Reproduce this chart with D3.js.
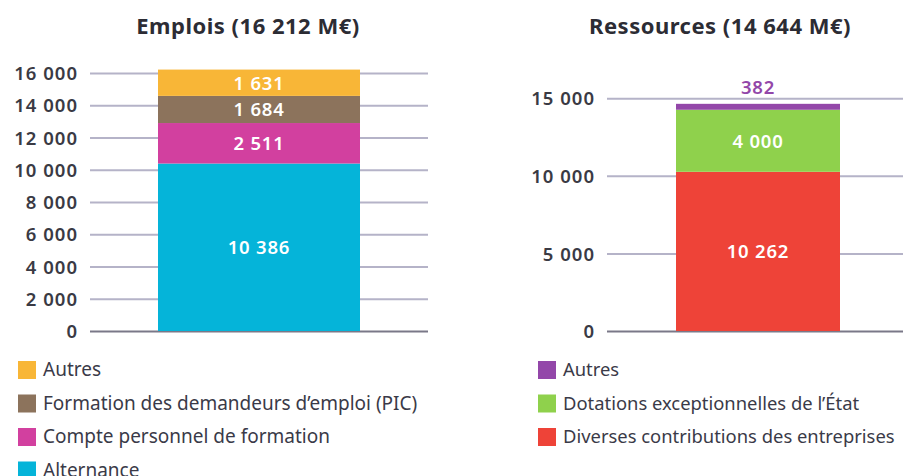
<!DOCTYPE html>
<html>
<head>
<meta charset="utf-8">
<script src="https://cdn.jsdelivr.net/npm/d3@7"></script>
<style>
body { margin:0; background:#fff; }
text { font-family: "Noto Sans", sans-serif; }
</style>
</head>
<body>
<script>
// donnees
var emploisCats = ['Alternance', 'Compte personnel de formation', 'Formation des demandeurs d\u2019emploi (PIC)', 'Autres'];
var emploisVals = [10386, 2511, 1684, 1631];
var emploisColors = ['#05b4d9', '#d2409f', '#8c735c', '#f8b637'];
var emploisTicks = [0, 2000, 4000, 6000, 8000, 10000, 12000, 14000, 16000];

var ressCats = ['Diverses contributions des entreprises', 'Dotations exceptionnelles de l\u2019\u00c9tat', 'Autres'];
var ressVals = [10262, 4000, 382];
var ressColors = ['#ee4338', '#8fd14c', '#9347a9'];
var ressTicks = [0, 5000, 10000, 15000];

var fmt = function(v){ return d3.format(',')(v).replace(/,/g, ' '); };

var svg = d3.select('body').append('svg').attr('width', 903).attr('height', 476);

function drawChart(opt) {
	var g = svg.append('g').attr('transform', 'translate(' + opt.x + ',0)');
	var y = d3.scaleLinear().domain([0, opt.ymax]).range([331, 331 - opt.pxPerUnit * opt.ymax]);

	g.append('text').attr('x', opt.titleX).attr('y', 34).attr('text-anchor', 'middle')
		.style('font-size', '22px').style('font-weight', 'bold').style('letter-spacing', '0.5px')
		.style('fill', '#2c2c34').text(opt.title);

	// grille
	var axis = d3.axisLeft(y).tickValues(opt.ticks).tickSize(-(opt.gridEnd - opt.gridStart)).tickPadding(12).tickFormat(fmt);
	var ag = g.append('g').attr('transform', 'translate(' + opt.gridStart + ',0)').call(axis);
	ag.select('.domain').remove();
	ag.selectAll('.tick line').attr('stroke', function(d){ return d === 0 ? '#7a7888' : '#b5b3c8'; }).attr('stroke-width', 2);
	ag.selectAll('.tick text').attr('dy', '0.36em').style('font-size', '18.5px').style('font-weight', '600')
		.style('letter-spacing', '1px').style('fill', '#3a3a44').attr('font-family', null);

	// barres empilees
	var stack = [], acc = 0;
	opt.vals.forEach(function(v, i){ stack.push({y0: acc, y1: acc + v, v: v, c: opt.colors[i], i: i}); acc += v; });
	g.selectAll('rect.seg').data(stack).enter().append('rect').attr('class', 'seg')
		.attr('x', opt.barX).attr('width', opt.barW)
		.attr('y', function(d){ return y(d.y1); })
		.attr('height', function(d){ return y(d.y0) - y(d.y1); })
		.attr('fill', function(d){ return d.c; });

	g.selectAll('text.lbl').data(stack).enter().append('text').attr('class', 'lbl')
		.attr('x', opt.barX + opt.barW / 2)
		.attr('y', function(d){ return d.v < 1000 ? y(d.y1) - 10 : y((d.y0 + d.y1) / 2) + 7; })
		.attr('text-anchor', 'middle').style('font-size', '18.5px').style('font-weight', '600')
		.style('letter-spacing', '0.8px')
		.style('fill', function(d){ return d.v < 1000 ? d.c : '#fff'; })
		.text(function(d){ return fmt(d.v); });

	// legende (ordre inverse)
	var leg = opt.cats.map(function(c, i){ return {c: c, col: opt.colors[i]}; }).reverse();
	var lg = g.selectAll('g.leg').data(leg).enter().append('g').attr('class', 'leg')
		.attr('transform', function(d, i){ return 'translate(' + opt.legX + ',' + (361 + i * 33.5) + ')'; });
	lg.append('rect').attr('width', 18).attr('height', 18).attr('fill', function(d){ return d.col; });
	lg.append('text').attr('x', 25).attr('y', 15).style('font-size', opt.legSize).style('fill', '#3a3a48')
		.text(function(d){ return d.c; });
}

drawChart({x: 0, title: 'Emplois (16 212 M\u20ac)', titleX: 248, ymax: 16212, pxPerUnit: 258 / 16000,
	ticks: emploisTicks, gridStart: 90, gridEnd: 428, barX: 158, barW: 202,
	vals: emploisVals, colors: emploisColors, cats: emploisCats, legX: 18, legSize: '19px'});

drawChart({x: 450, title: 'Ressources (14 644 M\u20ac)', titleX: 270, ymax: 15000, pxPerUnit: 232.7 / 15000,
	ticks: ressTicks, gridStart: 157, gridEnd: 460, barX: 226, barW: 164,
	vals: ressVals, colors: ressColors, cats: ressCats, legX: 88, legSize: '18.4px'});
</script>
</body>
</html>
